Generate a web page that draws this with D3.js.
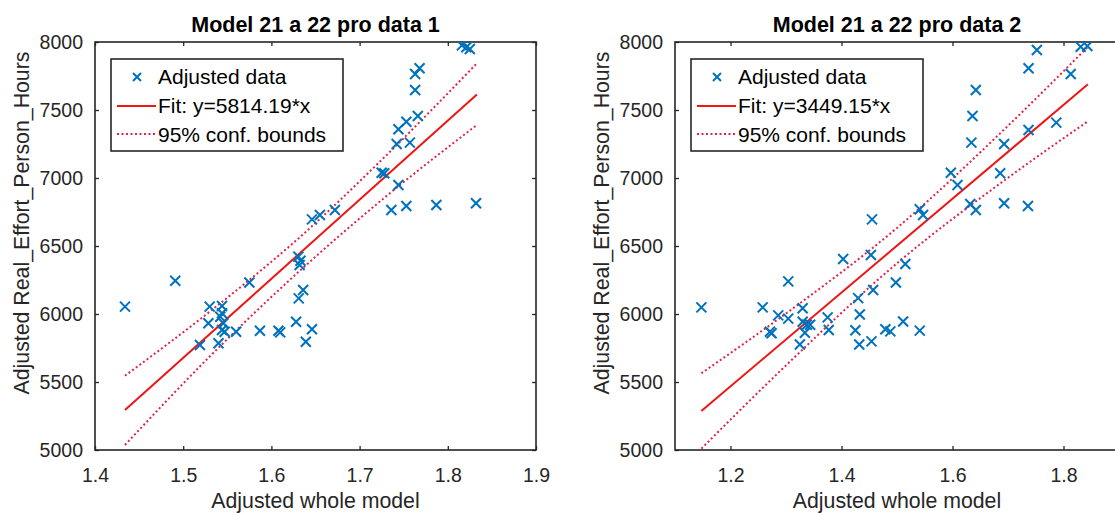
<!DOCTYPE html>
<html>
<head>
<meta charset="utf-8">
<script src="https://cdn.jsdelivr.net/npm/d3@7/dist/d3.min.js"></script>
<style>
  body { margin: 0; background: #fff; }
  svg { display: block; font-family: "Liberation Sans", Arial, sans-serif; }
  .tick text { font-size: 19.5px; font-family: "Liberation Sans", Arial, sans-serif; }
</style>
</head>
<body>
<div class="graph"></div>
<script>
// data
const yTicks = [5000, 5500, 6000, 6500, 7000, 7500, 8000];
const xTicks1 = [1.4, 1.5, 1.6, 1.7, 1.8, 1.9];
const xTicks2 = [1.2, 1.4, 1.6, 1.8];

const titles = ["Model 21 a 22 pro data 1", "Model 21 a 22 pro data 2"];
const slopes = [5814.19, 3449.15];

const dataX1 = [1.816, 1.821, 1.825, 1.768, 1.763, 1.763, 1.766, 1.753, 1.744, 1.757, 1.742,
  1.725, 1.728, 1.744, 1.736, 1.753, 1.787, 1.832, 1.672, 1.655, 1.646,
  1.6305, 1.633, 1.632, 1.491, 1.575, 1.636, 1.631, 1.434, 1.530, 1.544, 1.544, 1.542,
  1.5285, 1.5455, 1.544, 1.547, 1.560, 1.587, 1.608, 1.610, 1.628, 1.646, 1.639, 1.519, 1.540];
const dataY1 = [7975, 7962, 7948, 7807, 7765, 7647, 7456, 7414, 7358, 7260, 7250,
  7039, 7035, 6948, 6765, 6794, 6801, 6814, 6765, 6728, 6696,
  6422, 6392, 6360, 6245, 6232, 6176, 6115, 6054, 6054, 6059, 6005, 5980,
  5932, 5932, 5882, 5870, 5870, 5877, 5877, 5865, 5943, 5888, 5796, 5772, 5785];

const dataX2 = [1.831, 1.843, 1.752, 1.737, 1.813, 1.642, 1.636, 1.787, 1.737, 1.634, 1.693,
  1.597, 1.686, 1.609, 1.632, 1.642, 1.693, 1.736, 1.541, 1.547, 1.455,
  1.403, 1.453, 1.515, 1.304, 1.498, 1.457, 1.430, 1.1475, 1.258, 1.330, 1.433, 1.286,
  1.304, 1.375, 1.330, 1.3375, 1.3435, 1.511, 1.271, 1.274, 1.334, 1.377, 1.425,
  1.479, 1.488, 1.541, 1.325, 1.432, 1.454];
const dataY2 = [7965, 7970, 7941, 7807, 7765, 7647, 7456, 7407, 7353, 7260, 7250,
  7039, 7035, 6948, 6809, 6765, 6814, 6794, 6770, 6728, 6696,
  6404, 6434, 6368, 6240, 6232, 6176, 6117, 6049, 6049, 6042, 5996, 5990,
  5966, 5975, 5943, 5921, 5921, 5945, 5870, 5858, 5862, 5882, 5880,
  5888, 5872, 5878, 5776, 5776, 5799];

const fitX1 = [1.434, 1.833];
const fitY1 = [5294, 7614];
const fitX2 = [1.1475, 1.844];
const fitY2 = [5287, 7689];

const boundX1 = [1.434, 1.53, 1.63, 1.73, 1.833];
const upper1 = [5546, 6017, 6552, 7165, 7843];
const lower1 = [5037, 5687, 6305, 6865, 7390];
const boundX2 = [1.1475, 1.3, 1.5, 1.7, 1.844];
const upper2 = [5564, 6004, 6633, 7384, 7965];
const lower2 = [5010, 5622, 6373, 7002, 7417];

const blue = "#0072bd", red = "#ee1515", dotRed = "#e0234a", ink = "#262626";

var svg = d3.select(".graph").append("svg")
  .attr("width", 1115)
  .attr("height", 513);

function drawPanel(p) {
  const x = d3.scaleLinear().domain(p.xDomain).range([p.left, p.right]);
  const y = d3.scaleLinear().domain([5000, 8000]).range([p.bottom, p.top]);
  const g = svg.append("g");

  g.append("clipPath").attr("id", "clip" + p.id)
    .append("rect")
    .attr("x", p.left).attr("y", p.top)
    .attr("width", p.right - p.left).attr("height", p.bottom - p.top);

  // ticks + labels
  g.append("g").attr("transform", "translate(0," + p.bottom + ")")
    .call(d3.axisBottom(x).tickValues(p.xTicks).tickSizeInner(-4).tickSizeOuter(0).tickPadding(18)
      .tickFormat(d3.format(".1f")));
  g.append("g").attr("transform", "translate(0," + p.top + ")")
    .call(d3.axisTop(x).tickValues(p.xTicks).tickSizeInner(-4).tickSizeOuter(0).tickFormat(""));
  g.append("g").attr("transform", "translate(" + p.left + ",0)")
    .call(d3.axisLeft(y).tickValues(yTicks).tickSizeInner(-4).tickSizeOuter(0).tickPadding(12)
      .tickFormat(d3.format("d")));
  g.append("g").attr("transform", "translate(" + p.right + ",0)")
    .call(d3.axisRight(y).tickValues(yTicks).tickSizeInner(-4).tickSizeOuter(0).tickFormat(""));

  g.selectAll(".domain").remove();
  g.selectAll(".tick line").attr("stroke", ink).attr("stroke-width", 1.3);
  g.selectAll(".tick text").attr("fill", ink);

  g.append("rect")
    .attr("x", p.left).attr("y", p.top)
    .attr("width", p.right - p.left).attr("height", p.bottom - p.top)
    .attr("fill", "none").attr("stroke", ink).attr("stroke-width", 1.6);

  const plot = g.append("g").attr("clip-path", "url(#clip" + p.id + ")");

  // confidence bounds
  const bandLine = d3.line().x(d => x(d[0])).y(d => y(d[1])).curve(d3.curveMonotoneX);
  [p.upper, p.lower].forEach(b => {
    plot.append("path")
      .datum(p.boundX.map((v, i) => [v, b[i]]))
      .attr("d", bandLine)
      .attr("fill", "none").attr("stroke", dotRed).attr("stroke-width", 2)
      .attr("stroke-dasharray", "2,2.5");
  });

  // fit
  plot.append("path")
    .datum(p.fitX.map((v, i) => [v, p.fitY[i]]))
    .attr("d", d3.line().x(d => x(d[0])).y(d => y(d[1])))
    .attr("fill", "none").attr("stroke", red).attr("stroke-width", 2);

  // markers
  plot.selectAll(".pt")
    .data(p.dataX.map((v, i) => [v, p.dataY[i]]))
    .enter().append("path")
    .attr("class", "pt")
    .attr("transform", d => "translate(" + x(d[0]) + "," + y(d[1]) + ")")
    .attr("d", "M-5,-5L5,5M-5,5L5,-5")
    .attr("stroke", blue).attr("stroke-width", 2).attr("fill", "none");

  // titles
  const cx = (p.left + p.right) / 2;
  g.append("text").attr("x", cx).attr("y", 32)
    .attr("text-anchor", "middle").attr("font-weight", "bold")
    .style("font-size", "21.5px").attr("fill", "#000")
    .text(p.title);
  g.append("text").attr("x", cx).attr("y", 508)
    .attr("text-anchor", "middle").style("font-size", "21.3px").attr("fill", ink)
    .text("Adjusted whole model");
  g.append("text")
    .attr("transform", "translate(" + (p.left - 73) + ",223) rotate(-90)")
    .attr("dy", "0.35em")
    .attr("text-anchor", "middle").style("font-size", "21.3px").attr("fill", ink)
    .text("Adjusted Real_Effort_Person_Hours");

  // legend
  const lx = p.left + 16, ly = 59;
  const lg = g.append("g");
  lg.append("rect").attr("x", lx).attr("y", ly).attr("width", 232).attr("height", 92)
    .attr("fill", "#fff").attr("stroke", ink).attr("stroke-width", 1.6);
  lg.append("path").attr("transform", "translate(" + (lx + 26) + "," + (ly + 18) + ")")
    .attr("d", "M-4,-4L4,4M-4,4L4,-4")
    .attr("stroke", blue).attr("stroke-width", 2).attr("fill", "none");
  lg.append("line").attr("x1", lx + 6).attr("x2", lx + 45).attr("y1", ly + 47).attr("y2", ly + 47)
    .attr("stroke", red).attr("stroke-width", 2);
  lg.append("line").attr("x1", lx + 6).attr("x2", lx + 45).attr("y1", ly + 75).attr("y2", ly + 75)
    .attr("stroke", dotRed).attr("stroke-width", 2).attr("stroke-dasharray", "2,2.5");
  const labels = ["Adjusted data", "Fit: y=" + p.slope.toFixed(2) + "*x", "95% conf. bounds"];
  lg.selectAll(".lt").data(labels).enter().append("text")
    .attr("x", lx + 47)
    .attr("y", (d, i) => ly + 18 + i * 29)
    .attr("dy", "0.35em")
    .style("font-size", "21px").attr("fill", "#000")
    .text(d => d);
}

drawPanel({ id: 1, left: 95, right: 536, top: 42, bottom: 450, xDomain: [1.4, 1.9], xTicks: xTicks1,
  title: titles[0], slope: slopes[0], dataX: dataX1, dataY: dataY1, fitX: fitX1, fitY: fitY1,
  boundX: boundX1, upper: upper1, lower: lower1 });
drawPanel({ id: 2, left: 675, right: 1119, top: 42, bottom: 450, xDomain: [1.1, 1.9], xTicks: xTicks2,
  title: titles[1], slope: slopes[1], dataX: dataX2, dataY: dataY2, fitX: fitX2, fitY: fitY2,
  boundX: boundX2, upper: upper2, lower: lower2 });
</script>
</body>
</html>
